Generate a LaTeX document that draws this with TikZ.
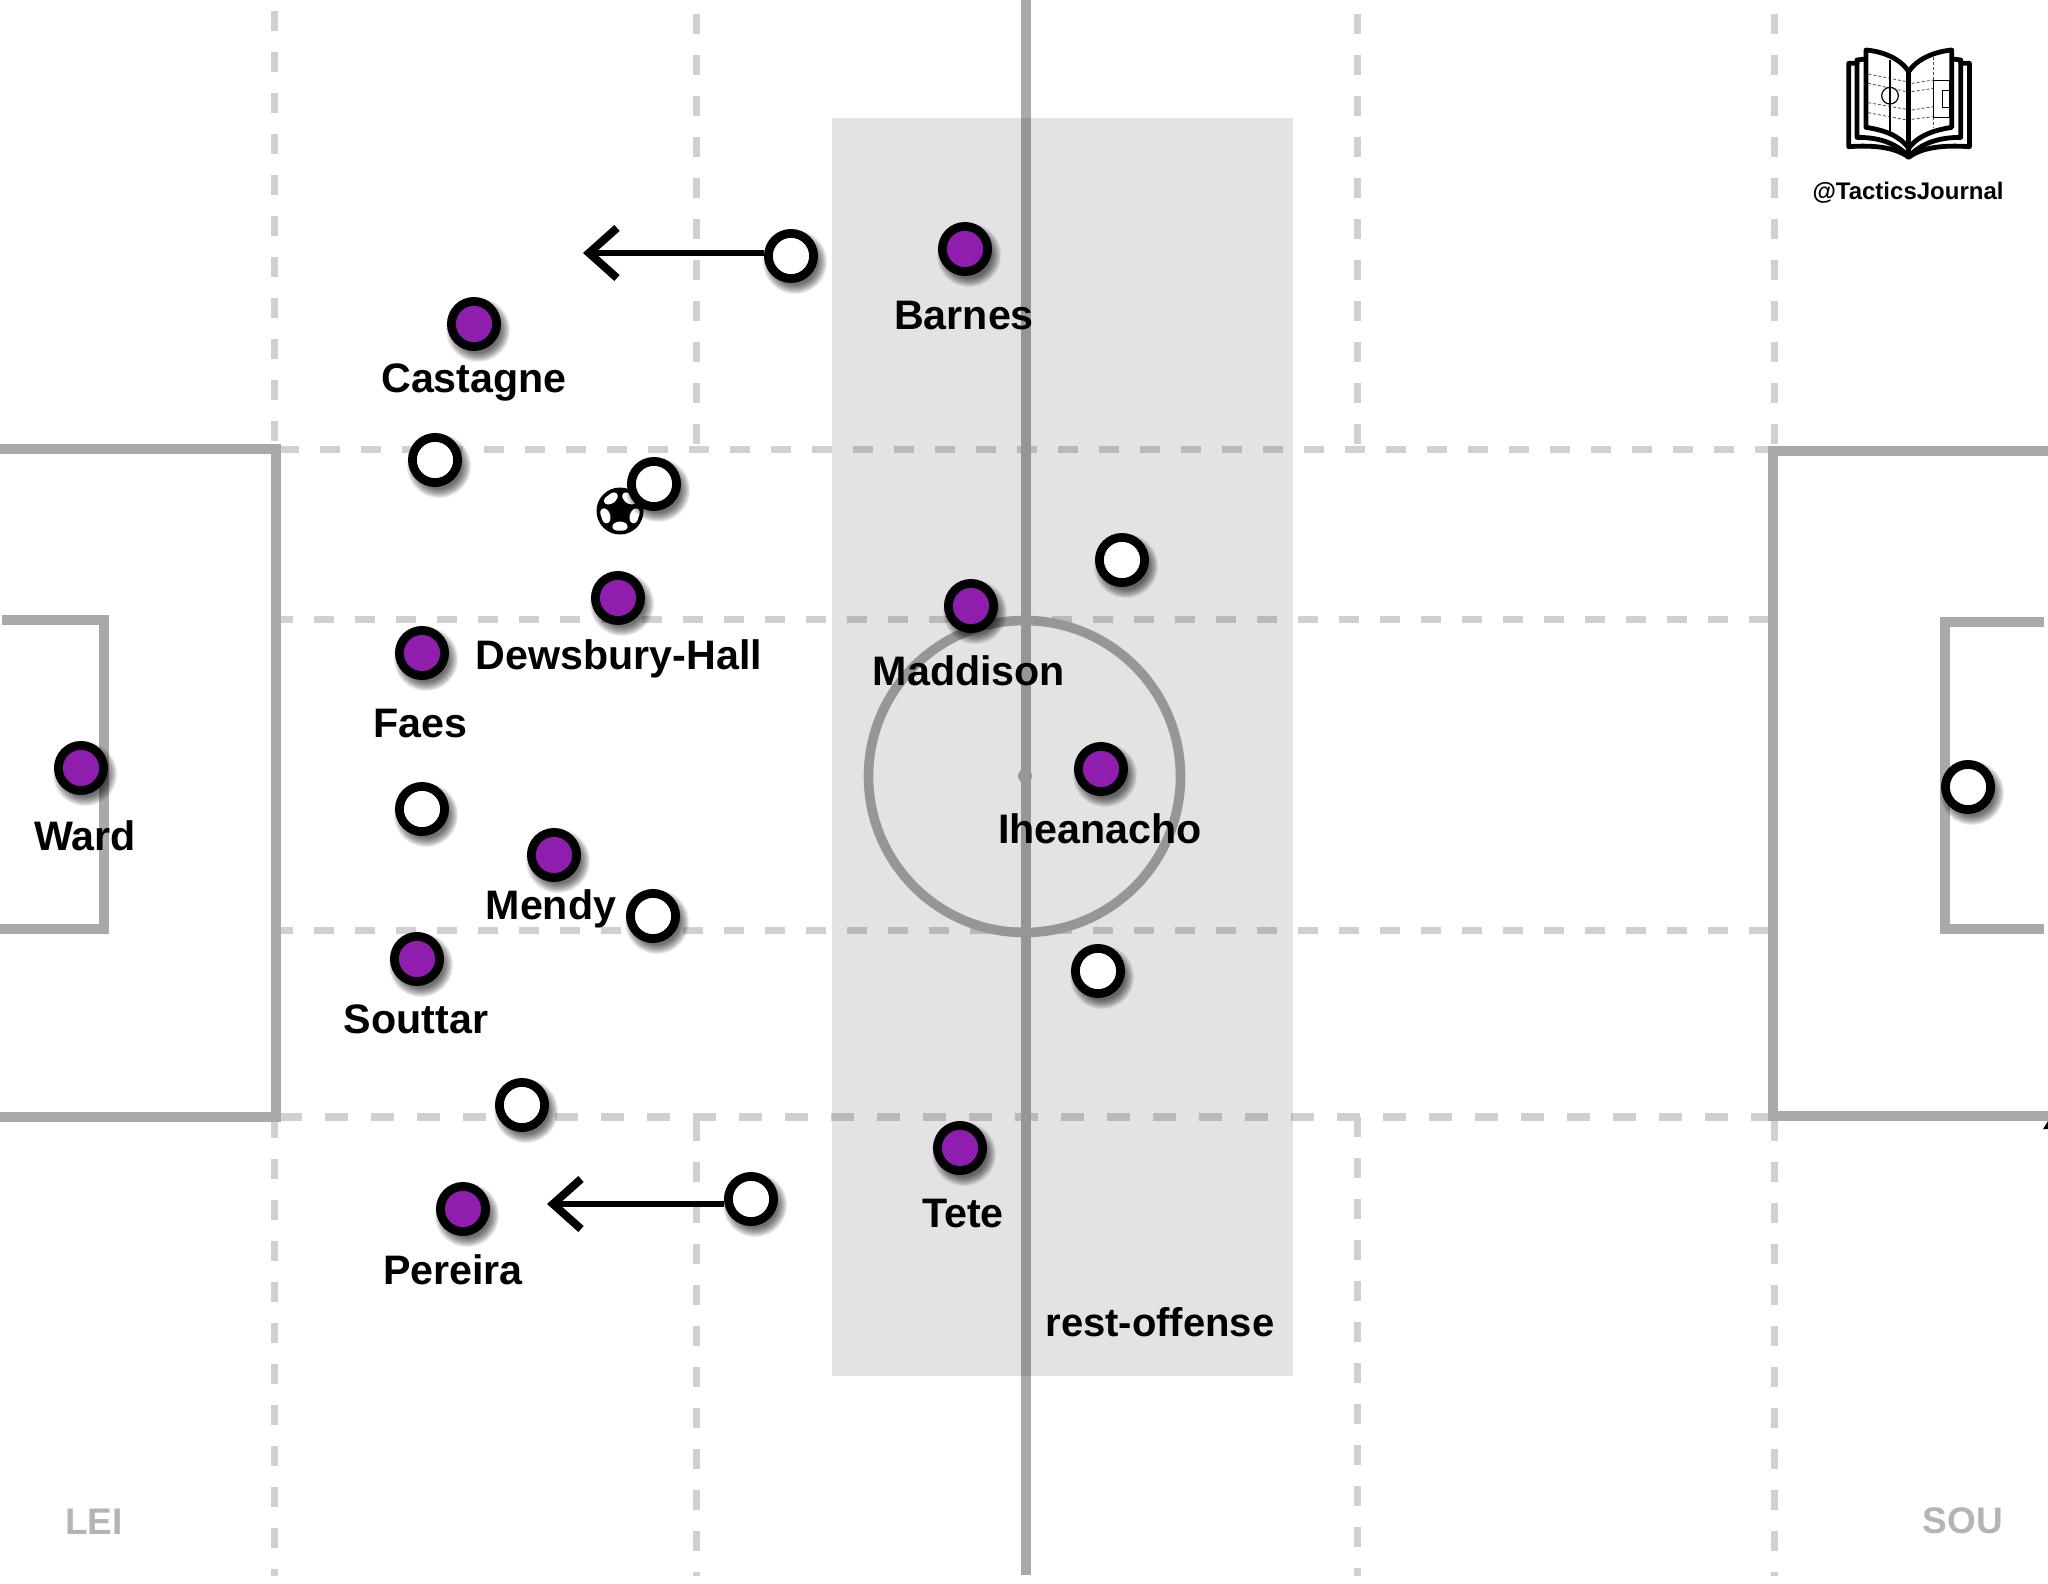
\documentclass[tikz,border=0pt]{standalone}
\usepackage{fontspec}
\setmainfont{Liberation Sans}
\usetikzlibrary{arrows.meta}
\definecolor{pitch}{HTML}{A9A9A9}
\definecolor{gridl}{HTML}{D0D0D0}
\definecolor{lei}{HTML}{8F1EAE}
\definecolor{teamlab}{HTML}{B4B4B4}
\tikzset{
  pitchline/.style={draw=pitch,line width=4.8pt,line cap=butt,line join=miter},
  gridline/.style={draw=gridl,line width=3.5pt,dash pattern=on 10pt off 10.5pt},
  gridwide/.style={draw=gridl,line width=3.8pt,dash pattern=on 11.5pt off 11.5pt},
  playerdot/.style={circle,draw=black,line width=4.4pt,minimum size=22.6pt,inner sep=0pt},
  plabel/.style={anchor=base,font=\bfseries\fontsize{20.6}{24}\selectfont,text=black,inner sep=0pt},
  teamname/.style={anchor=base,font=\bfseries\fontsize{18.5}{22}\selectfont,text=teamlab,inner sep=0pt},
  runarrow/.style={draw=black,line width=3pt,-{Straight Barb[length=14pt,width=25pt,line width=4pt]}},
  logoline/.style={draw=black,line width=2.4pt,line join=round,line cap=round},
  logothin/.style={draw=black!70,line width=.4pt,dash pattern=on 1.5pt off 1pt},
}
\newcommand\plshadow[2]{%
  \foreach \rr in {32,31,30,29,28,27,26,25,24,23}{\fill[black,opacity=.075] (#1,#2) ++(4,6) circle [radius=\rr];}}
\newcommand\plpurple[3]{\plshadow{#2}{#3}\node[playerdot,fill=lei] (#1) at (#2,#3) {};}
\newcommand\plwhite[3]{\plshadow{#2}{#3}\node[playerdot,fill=white] (#1) at (#2,#3) {};}
\begin{document}
\begin{tikzpicture}[x=.5pt,y=-.5pt]
\useasboundingbox (0,0) rectangle (2048,1583);
\fill[white] (0,0) rectangle (2048,1583);
% grid
\draw[gridline] (274,-30) -- (274,441);
\draw[gridline] (696,-27) -- (696,445);
\draw[gridline] (1357,-27) -- (1357,445);
\draw[gridline] (1774,-27) -- (1774,445);
\draw[gridline] (274,1118) -- (274,1576);
\draw[gridline] (696,1121) -- (696,1576);
\draw[gridline] (1357,1117) -- (1357,1576);
\draw[gridline] (1774,1121) -- (1774,1576);
\draw[gridline] (279,449.5) -- (1772,449.5);
\draw[gridline] (273,619) -- (1772,619);
\draw[gridline] (273,930) -- (1772,930);
\draw[gridwide] (279,1117) -- (1772,1117);
% pitch
\draw[pitchline] (1026,0) -- (1026,1575);
\draw[pitchline] (0,449) -- (276,449) -- (276,1117) -- (0,1117);
\draw[pitchline] (2,620) -- (104,620) -- (104,929) -- (0,929);
\draw[pitchline] (2048,451) -- (1773,451) -- (1773,1116) -- (2048,1116);
\draw[pitchline] (2044,622) -- (1945,622) -- (1945,929) -- (2044,929);
\draw[draw=pitch,line width=4.8pt] (1024.5,776.5) circle [radius=156];
\fill[pitch] (1025,776) circle [radius=7];
\fill[black] (2048,1121) -- (2048,1129) -- (2043,1129) -- cycle;
% rest-offense zone
\fill[black,opacity=.11] (832,118) rectangle (1293,1376);
% ball
\begin{scope}[shift={(620,511)}]
  \fill[black] (0,0) circle [radius=23.5];
  \foreach \aa in {54,126,198,270,342}{
    \begin{scope}[rotate=\aa]
      \fill[white,rounded corners=1.5pt] (19.5,-6.5) -- (19.5,6.5) -- (14,8.5) -- (10.5,3) -- (10.5,-3) -- (14,-8.5) -- cycle;
    \end{scope}
  }
\end{scope}
% players
\plpurple{barnes}{965}{249}
\plpurple{castagne}{474}{324}
\plpurple{dewsbury}{618}{598}
\plpurple{faes}{422}{653}
\plpurple{maddison}{971}{606}
\plpurple{iheanacho}{1101}{769}
\plpurple{ward}{81}{768}
\plpurple{mendy}{554}{855}
\plpurple{souttar}{417}{959}
\plpurple{tete}{960}{1148}
\plpurple{pereira}{463}{1209}
\plwhite{wa}{791}{256}
\plwhite{wb}{435}{460}
\plwhite{wc}{654}{484}
\plwhite{wd}{1122}{560}
\plwhite{we}{422}{809}
\plwhite{wf}{653}{916}
\plwhite{wg}{1098}{971}
\plwhite{wh}{522}{1105}
\plwhite{wi}{751}{1199}
\plwhite{wj}{1968}{787}
% arrows
\coordinate (tipa) at (583,253);
\coordinate (tipb) at (547,1204);
\draw[runarrow] (wa.west |- tipa) -- (tipa);
\draw[runarrow] (wi.west |- tipb) -- (tipb);
% labels
\node[plabel] (lbarnes) at (964,329) {Barnes};
\node[plabel] (lcastagne) at (474,393) {Castagne};
\node[plabel] (ldews) at (619,669) {Dewsbury-Hall};
\node[plabel] (lfaes) at (420,737) {Faes};
\node[plabel] (lmadd) at (969,685) {Maddison};
\node[plabel] (lihea) at (1100,843) {Iheanacho};
\node[plabel] (lward) at (85,850) {Ward};
\node[plabel] (lmendy) at (551,919) {Mendy};
\node[plabel] (lsout) at (416,1033) {Souttar};
\node[plabel] (ltete) at (963,1227) {Tete};
\node[plabel,font=\bfseries\fontsize{20}{24}\selectfont] (lrest) at (1160,1336) {rest-offense};
\node[plabel] (lpere) at (453,1284) {Pereira};
\node[teamname] (llei) at (94,1534) {LEI};
\node[teamname] (lsou) at (1963,1533) {SOU};
% logo
\begin{scope}[shift={(1780,20)},x=.1667pt,y=-.1667pt]
  \draw[logothin] (265,162) -- (380,185) (265,190) -- (380,215) (265,248) -- (380,268) (265,278) -- (380,300);
  \draw[logothin] (395,190) -- (460,180) (395,215) -- (460,205) (395,270) -- (460,260) (395,298) -- (460,290);
  \draw[logothin] (460,110) -- (460,325);
  \draw[draw=black,line width=.6pt] (330,120) -- (330,335);
  \draw[draw=black,line width=.6pt] (330,227) circle [radius=25];
  \draw[draw=black,line width=.6pt] (460,181) rectangle (510,292);
  \draw[draw=black,line width=.6pt] (488,212) rectangle (510,262);
  \draw[logoline] (258,322) -- (258,90) .. controls (310,95) and (360,115) .. (386,155)
     .. controls (412,115) and (465,95) .. (515,90) -- (515,322)
     .. controls (465,330) and (415,345) .. (386,385) .. controls (357,345) and (310,330) .. (258,322) -- cycle;
  \draw[logoline] (386,155) -- (386,410);
  \draw[logoline] (255,117) -- (231,120) -- (231,352) .. controls (290,352) and (345,365) .. (386,410)
     .. controls (427,365) and (485,352) .. (542,352) -- (542,120) -- (518,117);
  \draw[logoline] (231,130) -- (206,130) -- (206,380) .. controls (275,375) and (345,380) .. (386,412)
     .. controls (427,380) and (497,375) .. (568,380) -- (568,130) -- (542,130);
\end{scope}
\node[anchor=base,inner sep=0pt,font=\bfseries\fontsize{12}{14}\selectfont] (ltj) at (1908,200) {@TacticsJournal};
\end{tikzpicture}
\end{document}
